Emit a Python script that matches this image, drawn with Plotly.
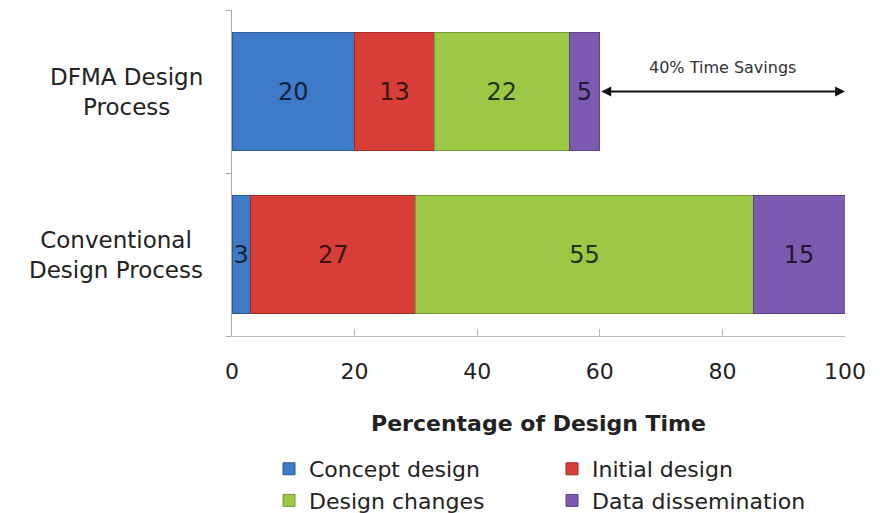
import plotly.graph_objects as go

categories = ["Conventional<br>Design Process", "DFMA Design<br>Process"]
series_names = ["Concept design", "Initial design", "Design changes", "Data dissemination"]
concept = [3, 20]
initial = [27, 13]
changes = [55, 22]
dissemination = [15, 5]
series_values = [concept, initial, changes, dissemination]
colors = ["#3D7AC7", "#D73E38", "#9DC845", "#7C5AAF"]
edge_colors = ["#2B5A96", "#9E2C28", "#789A38", "#5B4186"]
text_colors = ["#14223A", "#3A1212", "#243312", "#221833"]
x_ticks = [0, 20, 40, 60, 80, 100]
savings_label = "40% Time Savings"
savings_from, savings_to = 60, 100

FONT = "DejaVu Sans, Verdana, sans-serif"

fig = go.Figure()
for name, vals, c, ec, tc in zip(series_names, series_values, colors, edge_colors, text_colors):
    fig.add_trace(go.Bar(
        y=categories, x=vals, name=name, orientation="h",
        marker=dict(color=c, line=dict(color=ec, width=1)),
        text=[str(v) for v in vals], textposition="inside",
        insidetextanchor="middle",
        textfont=dict(size=24, color=tc, family=FONT),
        width=0.72,
    ))

fig.add_annotation(
    x=savings_to, y=categories[1], ax=savings_from, ay=categories[1],
    xref="x", yref="y", axref="x", ayref="y",
    text="", showarrow=True, arrowhead=2, startarrowhead=2, arrowside="end+start",
    arrowwidth=1.8, arrowsize=1.1, startarrowsize=1.1, arrowcolor="#111111",
)
fig.add_annotation(
    x=(savings_from + savings_to) / 2, y=categories[1], yshift=24,
    xref="x", yref="y", text=savings_label, showarrow=False,
    font=dict(size=16, color="#333333", family=FONT),
)

# category labels (centered multi-line, like the reference)
for cat in categories:
    fig.add_annotation(
        x=-0.044, xref="paper", xanchor="right", y=cat, yref="y", yanchor="middle",
        text=cat, showarrow=False, align="center",
        font=dict(size=23, color="#222222", family=FONT),
    )

fig.update_layout(
    barmode="stack",
    width=880, height=513,
    margin=dict(l=232, r=35, t=10, b=177),
    paper_bgcolor="white", plot_bgcolor="white",
    showlegend=True,
    uniformtext=dict(minsize=24, mode="show"),
    font=dict(family=FONT, color="#222222"),
    legend=dict(
        orientation="h", xref="container", yref="container",
        x=269 / 880, xanchor="left", y=1 - 448 / 513, yanchor="top",
        entrywidth=238, entrywidthmode="pixels",
        font=dict(size=22, color="#222222"), traceorder="normal",
        itemwidth=30, tracegroupgap=0,
    ),
    xaxis=dict(
        range=[0, 100], tickvals=x_ticks, showgrid=False, zeroline=False,
        showline=True, linecolor="#BBBBBB", linewidth=1,
        ticks="inside", ticklen=7, tickcolor="#BBBBBB",
        tickfont=dict(size=22, color="#222222"), ticklabelstandoff=16,
        title=dict(text="<b>Percentage of Design Time</b>", font=dict(size=22, color="#222222"), standoff=32),
    ),
    yaxis=dict(
        categoryorder="array", categoryarray=categories,
        showline=True, linecolor="#AAAAAA", linewidth=1,
        ticks="outside", ticklen=5, tickcolor="#AAAAAA", tickson="boundaries",
        showgrid=False, showticklabels=False,
        range=[-0.5, 1.5],
    ),
)

fig.write_html("out.html")
